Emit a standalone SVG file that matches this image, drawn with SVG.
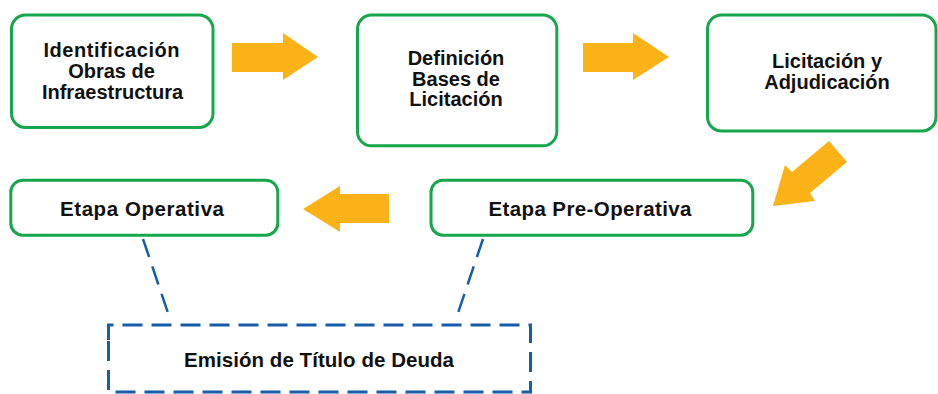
<svg xmlns="http://www.w3.org/2000/svg" width="938" height="394" viewBox="0 0 938 394">
<style>
.box{fill:#fff;stroke:#16A64B;stroke-width:3}
.arr{fill:#FBB217;stroke:none}
.lbl{font-family:"Liberation Sans",Arial,sans-serif;font-weight:bold;font-size:20px;fill:#111;text-anchor:middle}
.big{font-size:20.5px}
.dash{fill:none;stroke:#165DAA;stroke-width:3;stroke-dasharray:20 9}
.con{fill:none;stroke:#165DAA;stroke-width:2.5;stroke-dasharray:19 10}
</style>
<rect width="938" height="394" fill="#fff"/>
<g id="connectors">
<polygon class="arr" points="232,43 283,43 283,33 318,57 283,80 283,72 232,72"/>
<polygon class="arr" points="583,43 633,43 633,33 669,57 633,80 633,72 583,72"/>
<polygon class="arr" points="829,141 847,162 810,193 815,201 773,206 785,165 792,172"/>
<polygon class="arr" points="389,194 340,194 340,186 303,209 340,232 340,223 389,223"/>
<path class="con" d="M143,239 L168,313"/>
<path class="con" d="M483,239 L458,313"/>
</g>
<g id="n1">
<rect class="box" x="11.5" y="15" width="201.5" height="112.5" rx="14"/>
<text class="lbl" x="111.5" y="57" textLength="136" lengthAdjust="spacing">Identificación</text>
<text class="lbl" x="111.5" y="78">Obras de</text>
<text class="lbl" x="112.5" y="98.5">Infraestructura</text>
</g>
<g id="n2">
<rect class="box" x="357.5" y="15" width="199.3" height="130.8" rx="14"/>
<text class="lbl" x="456" y="65">Definición</text>
<text class="lbl" x="456" y="86">Bases de</text>
<text class="lbl" x="456" y="106">Licitación</text>
</g>
<g id="n3">
<rect class="box" x="707.5" y="15" width="228.5" height="116" rx="14"/>
<text class="lbl" x="827" y="68">Licitación y</text>
<text class="lbl" x="827" y="89">Adjudicación</text>
</g>
<g id="n4">
<rect class="box" x="431" y="180.2" width="321.8" height="55" rx="12"/>
<text class="lbl big" x="590" y="216" textLength="203" lengthAdjust="spacing">Etapa Pre-Operativa</text>
</g>
<g id="n5">
<rect class="box" x="10.8" y="180.2" width="267" height="55" rx="12"/>
<text class="lbl big" x="142" y="216" textLength="164" lengthAdjust="spacing">Etapa Operativa</text>
</g>
<g id="n6">
<path class="dash" d="M108.5,340 V325 H530.5 V392 H108.5 Z"/>
<text class="lbl big" x="319" y="367" textLength="270" lengthAdjust="spacing">Emisión de Título de Deuda</text>
</g>
</svg>
